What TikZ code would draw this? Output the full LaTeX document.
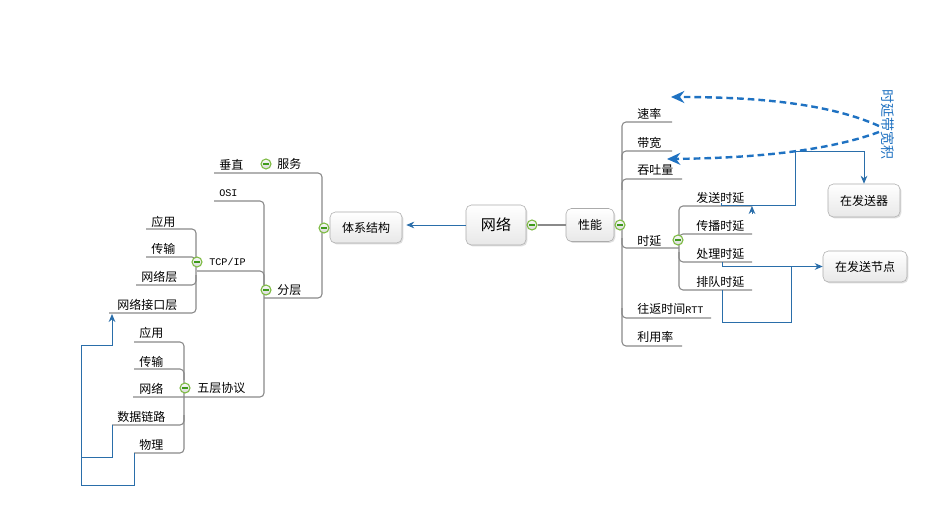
\documentclass[tikz,border=0pt]{standalone}
\usepackage{fontspec}
\setmainfont{Noto Sans CJK SC}
\newfontfamily\latinmono{Liberation Mono}
\usetikzlibrary{arrows.meta,shadows}
\definecolor{treeline}{HTML}{8A8A8A}
\definecolor{linkblue}{HTML}{2A6EAA}
\definecolor{dashblue}{HTML}{1F72C2}
\definecolor{dotgreen}{HTML}{7DBB42}
\definecolor{minusgreen}{HTML}{3E9A1A}
\definecolor{boxline}{HTML}{ABABAB}
\begin{document}
\begin{tikzpicture}[x=0.75pt,y=-0.75pt,
  lbl/.style={anchor=west,inner sep=0pt,font=\fontsize{9pt}{10pt}\selectfont},
  mono/.style={anchor=west,inner sep=0pt,font=\latinmono\fontsize{7.6pt}{8pt}\selectfont},
  tree/.style={draw=treeline,line width=0.8pt,rounded corners=3pt},
  topic/.style={draw=boxline,rounded corners=4pt,top color=white,bottom color=gray!18,
    drop shadow={shadow xshift=1pt,shadow yshift=-1pt,opacity=0.25},
    font=\fontsize{9pt}{10pt}\selectfont,inner sep=0pt},
  tog/.style={circle,draw=dotgreen,line width=0.8pt,top color=gray!5,bottom color=gray!30,
    minimum size=7.5pt,inner sep=0pt,
    path picture={\draw[minusgreen,line width=0.9pt]
      ([xshift=-2.2pt]path picture bounding box.center)--([xshift=2.2pt]path picture bounding box.center);}},
  link/.style={draw=linkblue,line width=0.75pt},
  tip/.style={-{Stealth[length=6pt,width=5pt]}},
  dlink/.style={draw=dashblue,line width=1.8pt,dash pattern=on 5pt off 3pt,-{Stealth[length=10pt,width=9pt]}}
]
\fill[white] (0,0) rectangle (951,510);
\useasboundingbox (0,0) rectangle (951,510);

% ---------- tree lines (left) ----------
\draw[tree] (214,173) -- (322,173) -- (322,298) -- (264,298);
\draw[tree] (214,201) -- (264,201) -- (264,397) -- (133,397);
\draw[tree] (197,271) -- (264,271) -- (264,285);
\draw[tree] (146,229) -- (196,229) -- (196,313) -- (109,313);
\draw[tree] (146,257) -- (196,257) -- (196,265);
\draw[tree] (136,285) -- (196,285) -- (196,275);
\draw[tree] (134,342) -- (184,342) -- (184,453) -- (134,453);
\draw[tree] (134,369) -- (184,369) -- (184,380);
\draw[tree] (112,425) -- (184,425) -- (184,415);

% ---------- tree lines (right) ----------
\draw[tree] (672,122) -- (622,122) -- (622,346) -- (682,346);
\draw[tree] (672,151) -- (622,151) -- (622,160);
\draw[tree] (682,179) -- (622,179) -- (622,190);
\draw[tree] (622,238) -- (622,248) -- (679,248);
\draw[tree] (752,206) -- (679,206) -- (679,290) -- (752,290);
\draw[tree] (752,234) -- (679,234) -- (679,244);
\draw[tree] (752,262) -- (679,262) -- (679,252);
\draw[tree] (711,318) -- (622,318) -- (622,308);

% ---------- topic boxes ----------
\node[topic,minimum width=54pt,minimum height=23.25pt] (tx) at (366,227.5) {体系结构};
\node[topic,minimum width=45pt,minimum height=30pt,font=\fontsize{11.3pt}{12pt}\selectfont] (wl) at (496,225) {网络};
\node[topic,minimum width=36pt,minimum height=24.75pt] (xn) at (590,225) {性能};
\node[topic,minimum width=54pt,minimum height=24.75pt] (fsq) at (864,200.5) {在发送器};
\node[topic,minimum width=63pt,minimum height=23.25pt] (jd) at (865,266.5) {在发送节点};

% ---------- toggles ----------
\node[tog] (c0) at (532,225) {};
\draw[tree] (c0) -- (xn.west);
\node[tog] (c1) at (620,225) {};
\node[tog] (c2) at (324,228) {};
\node[tog] (c3) at (266,164) {};
\node[tog] (c4) at (266,290) {};
\node[tog] (c5) at (197,262) {};
\node[tog] (c6) at (185,388) {};
\node[tog] (c7) at (678,240) {};

% ---------- labels (left) ----------
\node[lbl] (chuizhi) at (219,165) {垂直};
\node[lbl] (fuwu) at (277,164) {服务};
\node[mono] (osi) at (219,193) {OSI};
\node[lbl] (fenceng) at (277,290) {分层};
\node[mono] (tcpip) at (209,262) {TCP/IP};
\node[lbl] (ya1) at (151,222) {应用};
\node[lbl] (cs1) at (151,249) {传输};
\node[lbl] (wlc) at (141,277) {网络层};
\node[lbl] (wljk) at (117,305) {网络接口层};
\node[lbl] (wuceng) at (197,388) {五层协议};
\node[lbl] (ya2) at (139,333) {应用};
\node[lbl] (cs2) at (139,362) {传输};
\node[lbl] (wl2) at (139,389) {网络};
\node[lbl] (sjll) at (117,417) {数据链路};
\node[lbl] (wuli) at (139,445) {物理};

% ---------- labels (right) ----------
\node[lbl] (sulv) at (637,114) {速率};
\node[lbl] (daikuan) at (637,143) {带宽};
\node[lbl] (tuntu) at (637,170) {吞吐量};
\node[lbl] (shiyan) at (637,241) {时延};
\node[lbl] (rtt) at (637,309) {往返时间{\latinmono\fontsize{7.6pt}{8pt}\selectfont RTT}};
\node[lbl] (liyong) at (637,337) {利用率};
\node[lbl] (fssy) at (696,198) {发送时延};
\node[lbl] (cbsy) at (696,226) {传播时延};
\node[lbl] (clsy) at (696,254) {处理时延};
\node[lbl] (pdsy) at (696,282) {排队时延};

% ---------- relationships ----------
\draw[link,tip,shorten >=3pt] (wl.west) -- (wl.west -| tx.east);

\coordinate (fsA) at (721,203);
\draw[link,tip] (fsA) -- (721,206) -- (795,206) -- (795,152) -| (fsq.north);
\coordinate (fsB) at (752,214);
\coordinate (fsC) at (752,206);
\draw[link,tip] (fsB) -- (fsC);

\coordinate (clA) at (722,262);
\draw[link,tip] (clA) -- (722,266.5) -- (jd.west);
\coordinate (pdA) at (722,290);
\draw[link] (pdA) -- (722,322) -- (791,322) -- (791,266.5);

\coordinate (wlA) at (134,453);
\draw[link,tip] (wlA) -- (134,485) -- (81,485) -- (81,345) -- (112,345) -- (112,314);
\coordinate (sjA) at (112,425);
\draw[link] (sjA) -- (112,457) -- (81,457);

% ---------- dashed relationship with vertical label ----------
\node[rotate=-90,text=dashblue,inner sep=0pt,font=\fontsize{10.5pt}{11pt}\selectfont] (bw) at (888,125) {时延带宽积};
\coordinate (d1) at (879,126);
\coordinate (d2) at (879,132);
\coordinate (e1) at (671,97);
\coordinate (e2) at (667,159);
\draw[dlink] (d1) .. controls (830,104) and (760,97) .. (e1);
\draw[dlink] (d2) .. controls (830,150) and (760,158) .. (e2);
\end{tikzpicture}
\end{document}
